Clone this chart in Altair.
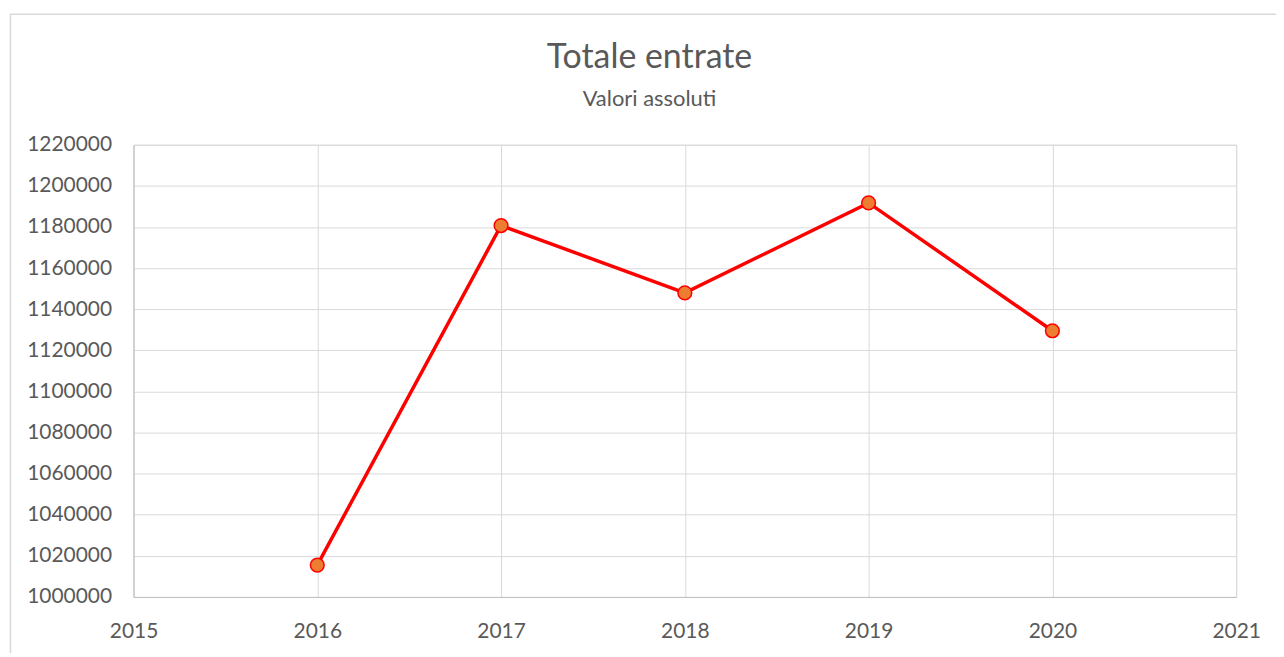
import altair as alt
import pandas as pd

years = [2016, 2017, 2018, 2019, 2020]
values = [1015500, 1180700, 1147900, 1191700, 1129500]
x_ticks = [2015, 2016, 2017, 2018, 2019, 2020, 2021]
y_ticks = list(range(1000000, 1220001, 20000))
title_text = ["Totale entrate"]
subtitle_text = ["Valori assoluti"]

df = pd.DataFrame({"anno": years, "valore": values})

FONT = "Lato"
TXT = "#595959"

x_enc = alt.X("anno:Q",
              scale=alt.Scale(domain=[2015, 2021], nice=False, zero=False),
              axis=alt.Axis(values=x_ticks, format="d", title=None, grid=True,
                            gridColor="#d9d9d9", ticks=False, domainColor="#bfbfbf",
                            labelFlush=False, labelPadding=24, labelFontSize=21,
                            labelColor=TXT, labelFont=FONT))
y_enc = alt.Y("valore:Q",
              scale=alt.Scale(domain=[1000000, 1220000], nice=False, zero=False),
              axis=alt.Axis(values=y_ticks, format="d", title=None, grid=True,
                            gridColor="#d9d9d9", ticks=False, domainColor="#bfbfbf",
                            labelPadding=22, labelFontSize=21, labelColor=TXT,
                            labelFont=FONT))

border = alt.Chart(pd.DataFrame({"a": [0]})).mark_rect(
    fill=None, stroke="#d9d9d9", strokeWidth=1.5
).encode(x=alt.value(-123.5), x2=alt.value(1200), y=alt.value(-131), y2=alt.value(560))

title = alt.Chart(pd.DataFrame({"t": title_text})).mark_text(
    font=FONT, fontSize=34, color=TXT, align="center", baseline="middle"
).encode(text="t:N", x=alt.value(518), y=alt.value(-87))

subtitle = alt.Chart(pd.DataFrame({"t": subtitle_text})).mark_text(
    font=FONT, fontSize=22, color=TXT, align="center", baseline="middle"
).encode(text="t:N", x=alt.value(518), y=alt.value(-46))

line = alt.Chart(df).mark_line(color="#ff0000", strokeWidth=3.5).encode(x=x_enc, y=y_enc)
points = alt.Chart(df).mark_point(
    filled=True, fill="#ed7d31", stroke="#ff0000", strokeWidth=1.5, size=190, opacity=1
).encode(x="anno:Q", y="valore:Q")

chart = alt.layer(border, title, subtitle, line, points).properties(
    width=1107, height=454,
    autosize=alt.AutoSizeParams(type="none"),
    padding={"left": 126, "top": 136, "right": 40, "bottom": 55},
).configure_view(stroke="#d9d9d9", strokeWidth=1).configure(background="white")

chart.save("out.html", embed_options={"renderer": "svg", "actions": False})
